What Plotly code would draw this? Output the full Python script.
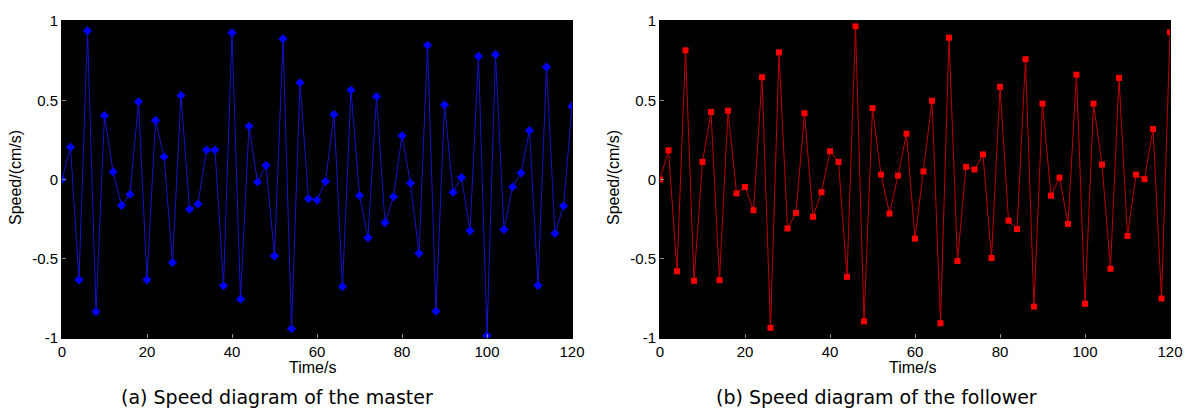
import plotly.graph_objects as go

time_s = list(range(0, 121, 2))

master_speed = [
    0.000, 0.204, -0.633, 0.938, -0.835, 0.404, 0.049, -0.163, -0.093, 0.491,
    -0.633, 0.373, 0.144, -0.524, 0.530, -0.188, -0.155, 0.186, 0.186, -0.670,
    0.926, -0.755, 0.336, -0.016, 0.089, -0.482, 0.887, -0.942, 0.610, -0.122,
    -0.130, -0.012, 0.410, -0.676, 0.565, -0.101, -0.367, 0.524, -0.272, -0.109,
    0.276, -0.023, -0.466, 0.847, -0.831, 0.472, -0.080, 0.012, -0.324, 0.777,
    -0.986, 0.788, -0.315, -0.047, 0.041, 0.309, -0.668, 0.709, -0.340, -0.167,
    0.462,
]

follower_speed = [
    0.000, 0.184, -0.579, 0.815, -0.639, 0.111, 0.426, -0.635, 0.434, -0.088,
    -0.047, -0.194, 0.645, -0.936, 0.802, -0.309, -0.211, 0.418, -0.235, -0.080,
    0.178, 0.111, -0.614, 0.966, -0.895, 0.450, 0.031, -0.215, 0.025, 0.289,
    -0.373, 0.051, 0.497, -0.907, 0.895, -0.514, 0.080, 0.063, 0.158, -0.495,
    0.585, -0.260, -0.313, 0.759, -0.802, 0.479, -0.102, 0.012, -0.280, 0.661,
    -0.784, 0.479, 0.094, -0.563, 0.641, -0.356, 0.031, 0.002, 0.319, -0.751,
    0.929,
]

x_ticks = [0, 20, 40, 60, 80, 100, 120]
y_ticks = [-1, -0.5, 0, 0.5, 1]
y_tick_text = ["-1", "-0.5", "0", "0.5", "1"]

x_title = "Time/s"
y_title = "Speed/(cm/s)"
captions = ["(a) Speed diagram of the master", "(b) Speed diagram of the follower"]

W, H = 1196, 420
ML, MR, MT, MB = 62, 26, 13, 82
plot_w = W - ML - MR
left_dom = [0, 510 / plot_w]
right_dom = [598 / plot_w, 1.0]

fig = go.Figure()
fig.add_trace(go.Scatter(
    x=time_s, y=master_speed, mode="lines+markers",
    line=dict(color="rgb(20,20,200)", width=1),
    marker=dict(symbol="diamond", size=7, color="rgb(0,0,255)"),
    xaxis="x", yaxis="y", showlegend=False,
))
fig.add_trace(go.Scatter(
    x=time_s, y=follower_speed, mode="lines+markers",
    line=dict(color="rgb(190,0,0)", width=1),
    marker=dict(symbol="square", size=6, color="rgb(255,0,0)"),
    xaxis="x2", yaxis="y2", showlegend=False,
))

tick_font = dict(family="Liberation Sans, Arial", size=15, color="black")
title_font = dict(family="Liberation Sans, Arial", size=16, color="black")
ax_common = dict(
    showgrid=False, zeroline=False, showline=True, linecolor="black", linewidth=1,
    mirror=True, ticks="inside", ticklen=4, tickcolor="#888888", tickfont=tick_font,
)

fig.update_layout(
    width=W, height=H, margin=dict(l=ML, r=MR, t=MT, b=MB),
    paper_bgcolor="white", plot_bgcolor="black",
    xaxis=dict(domain=left_dom, range=[0, 120], tickvals=x_ticks, anchor="y", **ax_common),
    yaxis=dict(domain=[0, 1], range=[-1, 1], tickvals=y_ticks, ticktext=y_tick_text,
               anchor="x", **ax_common),
    xaxis2=dict(domain=right_dom, range=[0, 120], tickvals=x_ticks, anchor="y2", **ax_common),
    yaxis2=dict(domain=[0, 1], range=[-1, 1], tickvals=y_ticks, ticktext=y_tick_text,
                anchor="x2", **ax_common),
)

plot_h = H - MT - MB
def px_to_paper_x(px):
    return (px - ML) / plot_w
def px_to_paper_y(py):
    return (H - MB - py) / plot_h

annotations = []
for i, (cx_px, cap_cx) in enumerate([(312, 277), (912, 876)]):
    annotations.append(dict(
        x=px_to_paper_x(cx_px), y=px_to_paper_y(368), xref="paper", yref="paper",
        text=x_title, showarrow=False, font=title_font, xanchor="center", yanchor="middle",
    ))
    annotations.append(dict(
        x=px_to_paper_x(cap_cx), y=px_to_paper_y(399), xref="paper", yref="paper",
        text=captions[i], showarrow=False,
        font=dict(family="DejaVu Sans", size=19, color="black"),
        xanchor="center", yanchor="middle",
    ))
for ty_px in [15, 613]:
    annotations.append(dict(
        x=px_to_paper_x(ty_px), y=px_to_paper_y(174), xref="paper", yref="paper",
        text=y_title, showarrow=False, font=title_font, textangle=-90,
        xanchor="center", yanchor="middle",
    ))
fig.update_layout(annotations=annotations)

fig.write_html("out.html")
